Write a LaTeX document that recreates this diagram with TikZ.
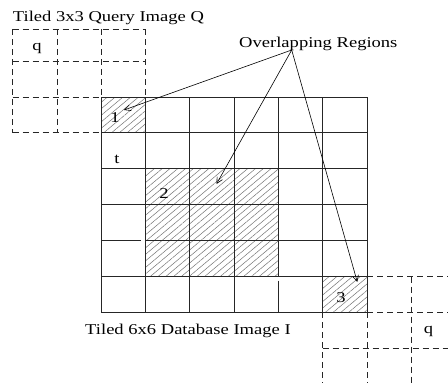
\documentclass[tikz,border=0pt]{standalone}
\usepackage{fontspec}
\setmainfont{Liberation Serif}
\usetikzlibrary{patterns.meta,arrows.meta}
\begin{document}
\begin{tikzpicture}[x=1pt,y=-1pt,
  lbl/.style={font=\fontsize{15}{18}\selectfont, inner sep=0pt, xscale=1.237},
  gridline/.style={line width=0.9pt, black!85},
  dashline/.style={line width=0.8pt, black!85, dash pattern=on 6pt off 4pt},
  hatch/.style={pattern={Lines[angle=40,distance=5pt,line width=0.5pt]}, pattern color=black!55},
  pointer/.style={line width=0.6pt, -{Straight Barb[length=6pt,width=6pt]}}]
\useasboundingbox (0,0) rectangle (448,383);

% hatched overlap regions
\fill[hatch] (101,97) rectangle (145.33,132.88);
\fill[hatch] (145.33,168.77) rectangle (278,276.65);
\fill[hatch] (322.67,276.65) rectangle (367,312.3);

% 6x6 database grid
\foreach \i in {0,1,2,3,5,6}
  \draw[gridline] ({101+44.333*\i},97) -- ({101+44.333*\i},312.3);
\draw[gridline] (278.33,97) -- (278.33,276.65);
\draw[gridline] (278.33,280.5) -- (278.33,312.3);
\foreach \j in {0,1,2,3,5,6}
  \draw[gridline] (101,{97+35.883*\j}) -- (367,{97+35.883*\j});
\draw[gridline] (101,240.53) -- (141,240.53);
\draw[gridline] (145.33,240.53) -- (367,240.53);

% 3x3 query tiling, upper left
\draw[dashline] (12.7,29) -- (145.33,29);
\draw[dashline] (12.7,61) -- (145.33,61);
\draw[dashline] (12.7,97) -- (101,97);
\draw[dashline] (12.7,132.88) -- (101,132.88);
\draw[dashline] (12.7,29) -- (12.7,132.88);
\draw[dashline] (57.3,29) -- (57.3,132.88);
\draw[dashline] (101,29) -- (101,97);
\draw[dashline] (145.33,29) -- (145.33,97);

% 3x3 query tiling, lower right
\draw[dashline] (367,276.65) -- (448,276.65);
\draw[dashline] (367,312.3) -- (448,312.3);
\draw[dashline] (322.67,348.3) -- (448,348.3);
\draw[dashline] (322.67,312.3) -- (322.67,383);
\draw[dashline] (367,312.3) -- (367,383);
\draw[dashline] (411.3,276.65) -- (411.3,383);

% labels
\node[lbl, anchor=base west] (qtitle) at (12.7,21.7) {Tiled 3x3 Query Image Q};
\node[lbl, anchor=base west] (over) at (239,47.5) {Overlapping Regions};
\node[lbl, anchor=base west] (dbtitle) at (85,334) {Tiled 6x6 Database Image I};
\node[lbl, anchor=base] (qa) at (37,50) {q};
\node[lbl, anchor=base] (tt) at (117,163) {t};
\node[lbl, anchor=base] (ra) at (115,122) {1};
\node[lbl, anchor=base] (rb) at (164,198) {2};
\node[lbl, anchor=base] (rc) at (341,302) {3};
\node[lbl, anchor=base] (qb) at (428.5,333) {q};

% pointers to the overlap regions
\coordinate (apex) at (291.7,50);
\coordinate (tipa) at (124,110);
\coordinate (tipb) at (216.5,184);
\coordinate (tipc) at (357.3,282);
\draw[pointer] (apex) -- (tipa);
\draw[pointer] (apex) -- (tipb);
\draw[pointer] (apex) -- (tipc);
\end{tikzpicture}
\end{document}
